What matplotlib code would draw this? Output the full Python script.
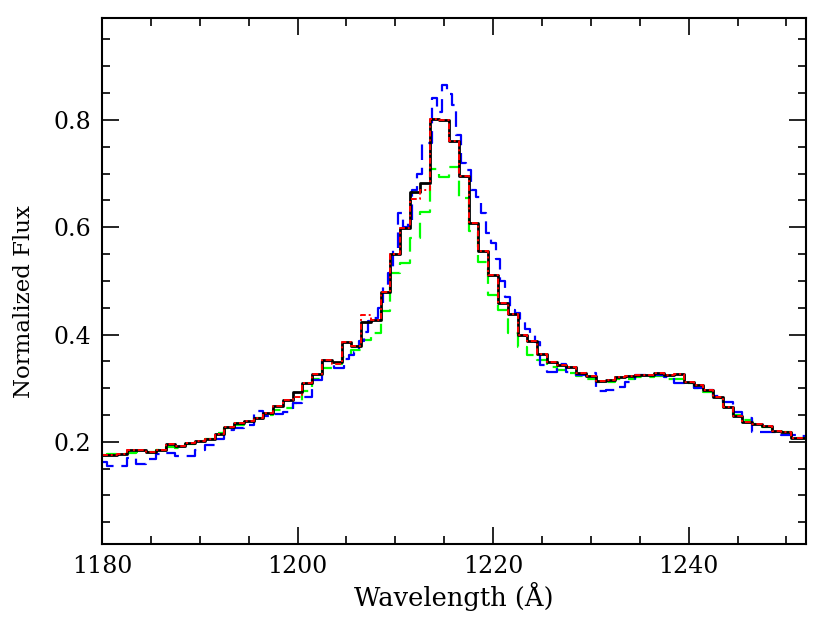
import numpy as np
import matplotlib
matplotlib.use("Agg")
import matplotlib.pyplot as plt
from matplotlib.ticker import MultipleLocator, FormatStrFormatter

# wavelength grid (1 A bins) shared by the black, red and green spectra
wave = np.arange(1180, 1253, 1.0)

flux_black = [
    0.175, 0.176, 0.178, 0.184, 0.184, 0.181, 0.185, 0.196, 0.192, 0.197,
    0.202, 0.206, 0.215, 0.228, 0.235, 0.238, 0.244, 0.254, 0.267, 0.278,
    0.292, 0.309, 0.327, 0.353, 0.348, 0.386, 0.379, 0.424, 0.427, 0.479,
    0.550, 0.598, 0.665, 0.682, 0.802, 0.800, 0.761, 0.696, 0.607, 0.555,
    0.511, 0.459, 0.438, 0.399, 0.387, 0.364, 0.348, 0.343, 0.340, 0.328,
    0.322, 0.314, 0.315, 0.320, 0.322, 0.325, 0.324, 0.328, 0.325, 0.326,
    0.312, 0.306, 0.296, 0.284, 0.265, 0.249, 0.237, 0.234, 0.229, 0.221,
    0.219, 0.207, 0.207,
]

flux_red = [
    0.175, 0.176, 0.178, 0.184, 0.184, 0.181, 0.185, 0.196, 0.192, 0.197,
    0.202, 0.206, 0.215, 0.228, 0.235, 0.238, 0.244, 0.254, 0.267, 0.278,
    0.283, 0.309, 0.327, 0.353, 0.345, 0.386, 0.379, 0.437, 0.427, 0.479,
    0.550, 0.598, 0.652, 0.670, 0.802, 0.800, 0.761, 0.696, 0.607, 0.555,
    0.511, 0.459, 0.438, 0.399, 0.387, 0.364, 0.348, 0.343, 0.340, 0.328,
    0.322, 0.314, 0.315, 0.320, 0.322, 0.325, 0.324, 0.328, 0.325, 0.326,
    0.312, 0.306, 0.296, 0.284, 0.265, 0.249, 0.237, 0.234, 0.229, 0.221,
    0.219, 0.207, 0.207,
]

flux_green = [
    0.175, 0.177, 0.178, 0.180, 0.181, 0.181, 0.184, 0.190, 0.188, 0.195,
    0.202, 0.206, 0.217, 0.225, 0.232, 0.237, 0.244, 0.250, 0.260, 0.263,
    0.272, 0.295, 0.318, 0.337, 0.345, 0.358, 0.371, 0.390, 0.402, 0.443,
    0.514, 0.533, 0.580, 0.628, 0.708, 0.693, 0.713, 0.654, 0.593, 0.536,
    0.474, 0.445, 0.402, 0.377, 0.362, 0.352, 0.340, 0.333, 0.328, 0.322,
    0.318, 0.312, 0.312, 0.317, 0.318, 0.320, 0.320, 0.322, 0.318, 0.318,
    0.310, 0.300, 0.292, 0.281, 0.265, 0.250, 0.240, 0.234, 0.227, 0.222,
    0.219, 0.208, 0.207,
]

# blue spectrum has finer sampling around the line core
wave_blue = np.concatenate([
    np.arange(1180, 1204, 1.0),
    np.arange(1203.5, 1225, 0.5),
    np.arange(1225, 1253, 1.0),
])

flux_blue = [
    # 1180 - 1203
    0.163, 0.154, 0.155, 0.169, 0.158, 0.168, 0.177, 0.180, 0.174, 0.174,
    0.185, 0.194, 0.206, 0.222, 0.226, 0.232, 0.258, 0.248, 0.251, 0.256,
    0.272, 0.283, 0.315, 0.350,
    # 1203.5 - 1224.5
    0.350, 0.338, 0.338, 0.355, 0.362, 0.368, 0.388, 0.405, 0.425, 0.430,
    0.450, 0.490, 0.515, 0.560, 0.626, 0.600, 0.610, 0.670, 0.700, 0.757,
    0.757, 0.840, 0.815, 0.865, 0.848, 0.828, 0.772, 0.720, 0.707, 0.670,
    0.657, 0.627, 0.589, 0.570, 0.540, 0.500, 0.470, 0.446, 0.440, 0.425,
    0.410, 0.399, 0.386,
    # 1225 - 1252
    0.343, 0.331, 0.345, 0.331, 0.325, 0.328, 0.294, 0.297, 0.303, 0.312,
    0.325, 0.325, 0.325, 0.320, 0.309, 0.310, 0.300, 0.297, 0.285, 0.275,
    0.255, 0.245, 0.219, 0.219, 0.219, 0.213, 0.213, 0.210,
]

plt.rcParams['font.family'] = ['DejaVu Serif']

fig = plt.figure(figsize=(8.3, 6.2), dpi=100)
ax = fig.add_axes([0.123, 0.123, 0.848, 0.848])

ax.step(wave, flux_green, where='mid', color='#00ff00', lw=1.6,
        linestyle=(0, (7, 3.5)))
ax.step(wave_blue, flux_blue, where='mid', color='#0000ff', lw=1.6,
        linestyle=(0, (7, 3.5)))
ax.step(wave, flux_black, where='mid', color='black', lw=2.0)
ax.step(wave, flux_red, where='mid', color='#ff0000', lw=1.4,
        linestyle=(0, (3, 1.5, 1, 1.5)))

ax.set_xlim(1180, 1252)
ax.set_ylim(0.01, 0.99)

ax.xaxis.set_major_locator(MultipleLocator(20))
ax.xaxis.set_minor_locator(MultipleLocator(5))
ax.yaxis.set_major_locator(MultipleLocator(0.2))
ax.yaxis.set_minor_locator(MultipleLocator(0.05))
ax.yaxis.set_major_formatter(FormatStrFormatter('%.1f'))

ax.tick_params(which='both', direction='in', top=True, right=True,
               width=1.2, labelsize=17)
ax.tick_params(which='major', length=12, pad=8)
ax.tick_params(which='minor', length=6)
for s in ax.spines.values():
    s.set_linewidth(1.5)

ax.set_xlabel('Wavelength (Å)', fontsize=18.5, labelpad=3)
ax.set_ylabel('Normalized Flux', fontsize=16.5)
ax.yaxis.set_label_coords(-0.095, 0.46)

fig.savefig('out.png', dpi=100)
